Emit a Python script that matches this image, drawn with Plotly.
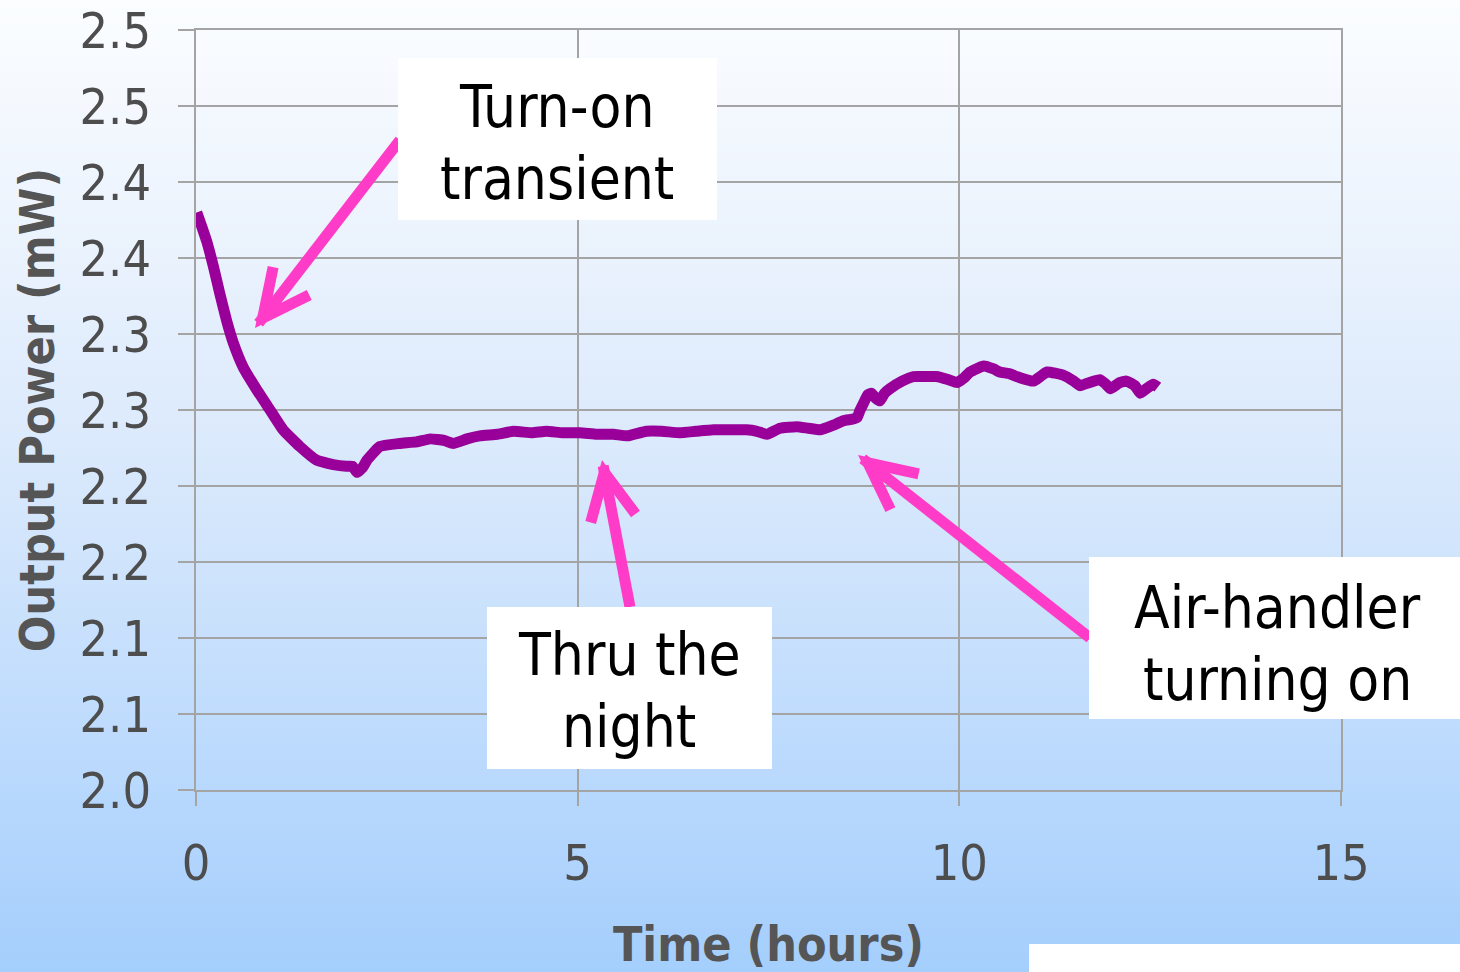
import math
import plotly.graph_objects as go

# ---- data ----
time_h = [0.01, 0.08, 0.14, 0.23, 0.31, 0.40, 0.49, 0.62, 0.80, 0.97, 1.14, 1.36,
          1.58, 1.80, 1.97, 2.05, 2.11, 2.18, 2.24, 2.41, 2.67, 2.89, 3.07, 3.25,
          3.37, 3.55, 3.72, 3.95, 4.16, 4.40, 4.59, 4.80, 5.03, 5.25, 5.47, 5.65,
          5.90, 6.10, 6.34, 6.55, 6.78, 7.00, 7.21, 7.35, 7.48, 7.65, 7.87, 8.02,
          8.18, 8.35, 8.48, 8.60, 8.66, 8.70, 8.74, 8.80, 8.85, 8.90, 8.96, 9.02,
          9.09, 9.25, 9.40, 9.55, 9.70, 9.85, 9.97, 10.06, 10.14, 10.32, 10.45,
          10.53, 10.65, 10.75, 10.97, 11.06, 11.15, 11.36, 11.50, 11.58, 11.70,
          11.84, 11.92, 11.98, 12.10, 12.19, 12.30, 12.37, 12.45, 12.54, 12.60]
power_mw = [2.380, 2.370, 2.361, 2.344, 2.327, 2.309, 2.294, 2.278, 2.263, 2.250,
            2.237, 2.226, 2.217, 2.214, 2.213, 2.213, 2.209, 2.212, 2.217, 2.226,
            2.228, 2.229, 2.231, 2.230, 2.228, 2.231, 2.233, 2.234, 2.236, 2.235,
            2.236, 2.235, 2.235, 2.234, 2.234, 2.233, 2.236, 2.236, 2.235, 2.236,
            2.237, 2.237, 2.237, 2.236, 2.234, 2.238, 2.239, 2.238, 2.237, 2.240,
            2.243, 2.244, 2.245, 2.250, 2.254, 2.260, 2.261, 2.258, 2.256, 2.261,
            2.264, 2.269, 2.272, 2.272, 2.272, 2.270, 2.268, 2.271, 2.275, 2.279,
            2.277, 2.275, 2.274, 2.272, 2.269, 2.272, 2.275, 2.273, 2.269, 2.266,
            2.268, 2.270, 2.267, 2.264, 2.268, 2.269, 2.266, 2.261, 2.264, 2.267,
            2.265]

x_ticks = [0, 5, 10, 15]
y_ticks = [2.00, 2.05, 2.10, 2.15, 2.20, 2.25, 2.30, 2.35, 2.40, 2.45, 2.50]
y_ticktext = ["2.0", "2.1", "2.1", "2.2", "2.2", "2.3", "2.3", "2.4", "2.4", "2.5", "2.5"]

callout_lines = [["Turn-on", "transient"], ["Thru the", "night"],
                 ["Air-handler", "turning on"]]

W, H = 1460, 972
L, R, T, B = 196, 1341, 30, 790
FONT = "DejaVu Sans Condensed, Roboto, DejaVu Sans, sans-serif"
PINK = "#ff3cc8"


def px(x):
    return (x - L) / (R - L)


def py(y):
    return (B - y) / (B - T)


def lerp_color(stops, t):
    for (t0, c0), (t1, c1) in zip(stops, stops[1:]):
        if t0 <= t <= t1:
            f = (t - t0) / (t1 - t0)
            return "rgb({},{},{})".format(*[round(a + (b - a) * f) for a, b in zip(c0, c1)])
    return "rgb({},{},{})".format(*stops[-1][1])


def arrow_shapes(tail, tip, arm=52, spread=26, width=11):
    """Shaft plus open V head, given pixel points."""
    dx, dy = tail[0] - tip[0], tail[1] - tip[1]
    n = math.hypot(dx, dy)
    ux, uy = dx / n, dy / n
    ang = math.atan2(uy, ux)
    back = (width / 2) / math.sin(math.radians(spread))
    hx, hy = tip[0] + ux * back, tip[1] + uy * back
    ends = []
    for s in (-1, 1):
        a = ang + s * math.radians(spread)
        ends.append((hx + arm * math.cos(a), hy + arm * math.sin(a)))
    sx, sy = tip[0] + ux * 6, tip[1] + uy * 6
    shaft = "M{},{} L{},{}".format(px(tail[0]), py(tail[1]), px(sx), py(sy))
    head = "M{},{} L{},{} L{},{}".format(px(ends[0][0]), py(ends[0][1]), px(hx), py(hy),
                                        px(ends[1][0]), py(ends[1][1]))
    return [dict(type="path", xref="paper", yref="paper", path=p, layer="above",
                 line=dict(color=PINK, width=width)) for p in (shaft, head)]


# background gradient, white at top to light blue at bottom
grad = [(0.0, (251, 253, 255)), (0.26, (234, 242, 253)), (0.51, (214, 231, 252)),
        (0.77, (188, 218, 253)), (1.0, (164, 206, 252))]
shapes = []
step = 8
for y0 in range(0, H, step):
    shapes.append(dict(
        type="rect", xref="paper", yref="paper", layer="below",
        x0=px(-5), x1=px(W + 5), y0=py(y0 + step + 1), y1=py(y0),
        fillcolor=lerp_color(grad, y0 / H), line=dict(width=0),
    ))

# pink callout arrows (tail, tip) in pixels
arrows = [((400, 140), (255, 328)), ((630, 607), (602, 460)), ((1090, 638), (858, 455))]
for tail, tip in arrows:
    shapes += arrow_shapes(tail, tip)

# white callout boxes (pixel boxes: left, top, right, bottom)
boxes = [(398, 58, 717, 220), (487, 607, 772, 769), (1089, 557, 1480, 719),
         (1029, 944, 1480, 1000)]
for x0, y0, x1, y1 in boxes:
    shapes.append(dict(
        type="rect", xref="paper", yref="paper", layer="above",
        x0=px(x0), x1=px(x1), y0=py(y1), y1=py(y0),
        fillcolor="white", line=dict(width=0),
    ))

fig = go.Figure(go.Scatter(
    x=time_h, y=power_mw,
    mode="lines",
    line=dict(color="#990099", width=11, shape="spline", smoothing=0.4),
    showlegend=False,
))

annotations = []
# text line centres in pixels
line_pos = [[(557, 107), (557, 179)], [(629, 655), (629, 727)],
            [(1277, 608), (1277, 680)]]
for lines, pos in zip(callout_lines, line_pos):
    for text, (cx, cy) in zip(lines, pos):
        annotations.append(dict(
            x=px(cx), y=py(cy), xref="paper", yref="paper",
            xanchor="center", yanchor="middle", text=text, showarrow=False,
            font=dict(family=FONT, size=58, color="black"),
        ))

grid = "#a4a4a4"
fig.update_layout(
    width=W, height=H,
    margin=dict(l=L, r=W - R, t=T, b=H - B, autoexpand=False),
    paper_bgcolor="white",
    plot_bgcolor="rgba(0,0,0,0)",
    shapes=shapes,
    annotations=annotations,
    xaxis=dict(
        range=[0, 15], tickvals=x_ticks, showgrid=True, gridcolor=grid,
        gridwidth=2, zeroline=False, showline=True, linecolor=grid, linewidth=2,
        mirror=True, automargin=False,
        ticks="outside", ticklen=14, tickwidth=2, tickcolor=grid,
        ticklabelstandoff=14,
        tickfont=dict(family=FONT, size=50, color="#4d4d4d"),
        title=dict(text="<b>Time (hours)</b>", standoff=36,
                   font=dict(family=FONT, size=48, color="#555555")),
    ),
    yaxis=dict(
        range=[2.0, 2.5], tickvals=y_ticks, ticktext=y_ticktext,
        showgrid=True, gridcolor=grid, gridwidth=2, zeroline=False,
        showline=True, linecolor=grid, linewidth=2, mirror=True,
        automargin=False, ticks="outside", ticklen=16,
        tickwidth=2, tickcolor=grid, ticklabelstandoff=17,
        tickfont=dict(family=FONT, size=50, color="#4d4d4d"),
        title=dict(text="<b>Output Power (mW)</b>", standoff=10,
                   font=dict(family=FONT, size=48, color="#555555")),
    ),
)

fig.write_html(
    "out.html",
    config={"displayModeBar": False},
    post_script="document.body.style.margin='0';document.body.style.overflow='hidden';",
)
